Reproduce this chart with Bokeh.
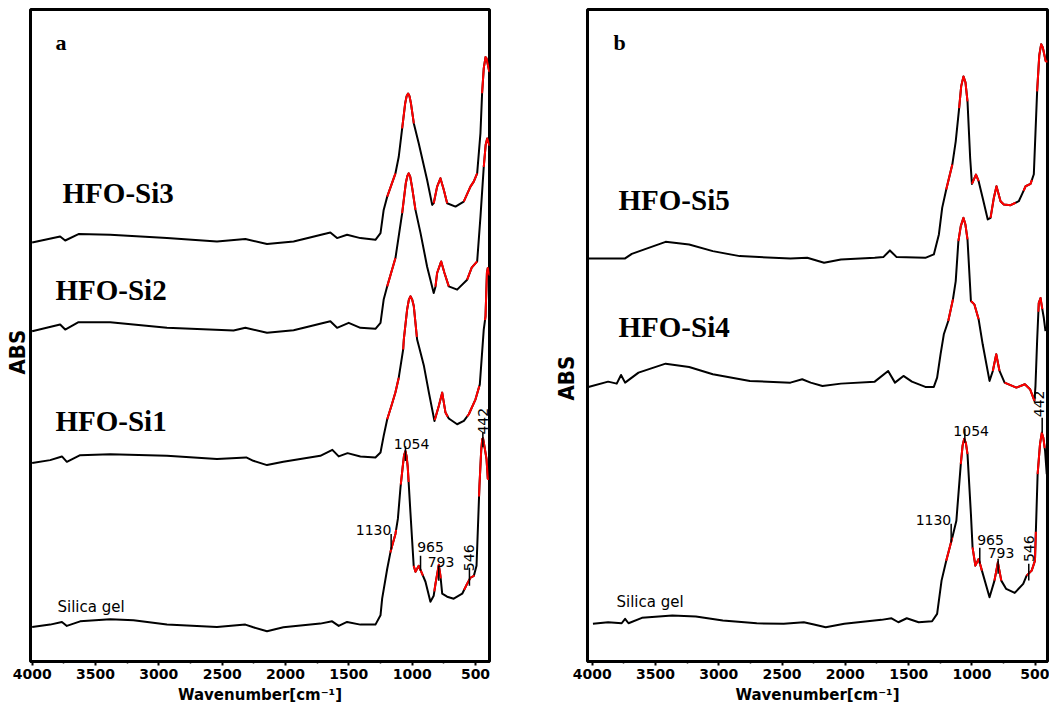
import numpy as np
from bokeh.plotting import figure
from bokeh.layouts import row
from bokeh.models import Range1d, Label, FixedTicker, Title
from bokeh.embed import file_html
from bokeh.resources import INLINE

# ---------------- Panel a data (wavenumber, absorbance a.u.) ----------------
silica_a_wn = [4000, 3858, 3765, 3726, 3621, 3384, 3200, 2936, 2541, 2317, 2254, 2146, 2017, 1725, 1632, 1580,
               1514, 1409, 1290, 1250, 1237, 1197, 1171, 1132, 1113, 1092, 1075, 1064, 1053, 1044, 1035, 1014, 988, 974, 948,
               921, 895, 856, 830, 816, 790, 777, 763, 724, 672, 605, 566, 540, 513, 492, 469, 455, 447, 441, 435, 413, 403]
silica_a_abs = [34.7, 37, 39.7, 35.7, 40.3, 42.3, 41.3, 37, 34.7, 37, 34.3, 30.3, 34.3, 38, 40.3, 35.7,
                39.7, 37, 37, 46.3, 63, 93, 110, 128, 143, 175, 195, 207, 211, 206, 195, 150, 96, 90, 96,
                88, 80, 60, 66, 78, 97, 86, 68, 65, 63, 68, 78, 84, 86, 96, 176, 212, 223, 224, 220, 203, 183]
silica_a_red = [(1172, 1127), (1090, 1028), (988, 915), (825, 775), (590, 512), (472, 395)]

si1_wn = [4000, 3858, 3765, 3726, 3621, 3384, 2936, 2541, 2310, 2254, 2146, 2017, 1725, 1630, 1580, 1510,
          1409, 1290, 1250, 1225, 1197, 1160, 1132, 1106, 1071, 1066, 1040, 1026, 1013, 1000, 987, 961, 947, 907, 868,
          824, 790, 763, 737, 711, 645, 592, 553, 500, 466, 435, 421, 410, 403, 390]
si1_abs = [199, 202, 205.7, 200.3, 207, 208, 206.3, 203, 204.7, 201.3, 197, 200.3, 206.3, 212.3, 205.7, 209,
           205.7, 204.7, 209.7, 226.3, 243, 258, 270, 284.7, 313, 323, 353, 363, 366.3, 363, 356.3, 323, 316.3, 296.3, 269.7,
           241.3, 256.3, 269.7, 249.7, 243.7, 238, 241.3, 248, 263, 278, 333, 346.3, 390, 394.7, 388]
si1_red = [(1197, 1106), (1071, 963), (822, 719), (566, 470), (425, 380)]

si2_wn = [4000, 3779, 3739, 3634, 3384, 2936, 2410, 2317, 2146, 1936, 1646, 1593, 1501, 1409, 1290, 1250,
          1225, 1197, 1132, 1079, 1050, 1038, 1027, 1015, 1000, 974, 934, 882, 830, 816, 803, 771, 745, 711, 645, 566,
          530, 487, 461, 435, 420, 408, 390]
si2_abs = [331.3, 338, 333, 340.3, 340.3, 334.7, 332, 334.7, 329.7, 332.3, 341.3, 334.7, 339.7, 334.7, 333.7, 339.7,
           363, 376.3, 404.7, 449.7, 480, 487, 489.7, 486, 475, 453, 429.7, 396, 369.7, 376, 389.7, 401.3, 389.7, 376.3, 373, 383,
           395, 401.3, 446, 496, 518, 524.7, 518]
si2_red = [(1197, 1132), (1079, 974), (816, 711), (566, 487), (435, 380)]

si3_wn = [4000, 3779, 3739, 3634, 3384, 2936, 2541, 2317, 2146, 1936, 1646, 1593, 1514, 1409, 1290, 1250,
          1225, 1197, 1132, 1106, 1079, 1055, 1044, 1032, 1021, 1010, 987, 948, 882, 842, 830, 803, 777, 750, 724, 658,
          593, 540, 514, 487, 461, 448, 435, 421, 413, 405, 392]
si3_abs = [420.3, 426.3, 422.3, 428.7, 428, 424.7, 421.3, 423.7, 418.7, 421.3, 430.3, 424.7, 428, 424.7, 423, 429.7,
           453, 466.3, 489.7, 506.3, 534.7, 560, 567, 569.7, 567, 560, 539.7, 519.7, 483, 458, 459.7, 476.3, 484.7, 473, 459.7, 456.3,
           461.3, 476.3, 481.3, 489.7, 530, 570, 595, 606.3, 605, 600, 592]
si3_red = [(1197, 1132), (1079, 987), (830, 724), (593, 487), (448, 380)]

# ---------------- Panel b data ----------------
silica_b_wn = [3994, 3874, 3767, 3740, 3713, 3607, 3367, 3181, 2968, 2700, 2487, 2328, 2248, 2155, 2008, 1715,
               1635, 1581, 1515, 1421, 1315, 1275, 1240, 1203, 1155, 1123, 1088, 1074, 1061, 1048, 1035, 1008, 995, 973,
               947, 921, 861, 822, 795, 768, 729, 662, 595, 568, 528, 502, 481, 462, 448, 436, 422, 409]
silica_b_abs = [37.7, 39.3, 38.3, 42.7, 38.3, 43.7, 46, 45, 41, 38.3, 37.7, 39.3, 37, 34.3, 37.7, 41.7,
                43.3, 39.3, 43.3, 39.3, 40.3, 47.7, 81, 101, 124.3, 141, 197.7, 216, 223, 219, 207.7, 147.7, 114.3, 96,
                102.7, 91, 64.3, 81, 99.3, 81, 72.7, 68.7, 77.7, 86, 91, 101, 187.7, 218, 229, 224, 211, 187.7]
silica_b_red = [(1203, 1155), (1088, 1035), (995, 921), (822, 768), (568, 495), (481, 425)]

si4_wn = [4030, 3874, 3806, 3772, 3740, 3634, 3420, 3234, 3047, 2754, 2434, 2341, 2274, 2181, 2035, 1768,
          1662, 1608, 1541, 1474, 1368, 1301, 1275, 1248, 1222, 1187, 1150, 1128, 1107, 1088, 1067, 1052, 1035, 1008,
          981, 947, 915, 861, 835, 808, 782, 742, 649, 582, 541, 506, 498, 485, 472, 458, 444, 432, 419]
si4_abs = [275, 280.3, 278.3, 287, 279.3, 289.3, 298.3, 295, 287.7, 281, 279.3, 282.7, 279.3, 276, 278.3, 280.3,
           291, 279.3, 286, 280.3, 275, 275, 284.3, 307.7, 327.7, 341, 362.7, 381, 421, 436, 444.3, 438, 422.7, 361,
           357.7, 342.7, 317.7, 281, 291, 307.7, 291, 279.3, 274.3, 277.7, 272.7, 261, 276, 321, 359, 364, 353, 344, 331]
si4_red = [(1187, 1150), (1107, 1035), (1008, 947), (835, 782), (742, 506), (475, 444)]

si5_wn = [4030, 3740, 3687, 3554, 3420, 3234, 3047, 2834, 2434, 2301, 2168, 2035, 1768, 1700, 1648, 1595,
          1368, 1301, 1261, 1235, 1203, 1155, 1128, 1101, 1085, 1067, 1051, 1035, 1014, 1000, 968, 947, 915, 875, 853,
          827, 806, 774, 748, 695, 630, 603, 576, 537, 511, 485, 468, 453, 440, 417]
si5_abs = [403.7, 403.7, 408.3, 414.3, 420.3, 417.7, 411, 406, 403.7, 404.3, 399.3, 402.7, 404.3, 405, 411.7, 405,
           404.3, 407.7, 427.7, 454.3, 472.7, 497.7, 521, 554.3, 576, 586, 580, 561, 504.3, 478.3, 487.7, 481, 464.3, 442.7, 444.3,
           464.3, 476, 461, 457.7, 457, 461, 468.3, 476, 478.3, 488, 571, 607, 618.3, 615, 601]
si5_red = [(1203, 1155), (1101, 1035), (1000, 947), (853, 655), (592, 526), (485, 400)]

# ---------------- Annotations ----------------
peak_labels = ["1130", "1054", "965", "793", "546", "442"]
peak_rotated = [False, False, False, False, True, True]
a_mark_wn = [1166, 1053, 934, 790, 548, 442]
a_mark_top = [128, 216, 106, 96, 94, 230]
a_mark_bot = [112, 201, 91, 81, 76, 215]
a_text_wn = [1305, 1005, 855, 772, 555, 442]
a_text_h = [132, 218, 115, 100, 104, 241]

b_mark_wn = [1164, 1056, 938, 793, 551, 445]
b_mark_top = [138, 233, 114, 103, 98, 244]
b_mark_bot = [119, 219, 98, 88, 81, 229]
b_text_wn = [1304, 1006, 853, 770, 553, 468]
b_text_h = [142, 231, 122, 109, 113, 258]

a_names = ["HFO-Si3", "HFO-Si2", "HFO-Si1", "Silica gel"]
a_name_wn = [3760, 3816, 3816, 3800]
a_name_h = [470, 373, 241, 55]
b_names = ["HFO-Si5", "HFO-Si4", "Silica gel"]
b_name_wn = [3792, 3792, 3808]
b_name_h = [462, 335, 60]

x_ticks = [500, 1000, 1500, 2000, 2500, 3000, 3500, 4000]
x_minor = [750, 1250, 1750, 2250, 2750, 3250, 3750]

SERIF = "'Liberation Serif', 'Times New Roman', serif"
SANS = "'DejaVu Sans', sans-serif"
NARROW = "'Liberation Sans Narrow', 'DejaVu Sans Condensed', 'Roboto', sans-serif"


def draw_curve(p, wn, ab, red_ranges):
    wn = np.asarray(wn, float)
    ab = np.asarray(ab, float)
    p.line(wn, ab, line_color="black", line_width=2, line_join="round")
    xs, ys = [], []
    for hi, lo in red_ranges:
        inner = wn[(wn < hi) & (wn > lo)]
        sx = np.concatenate([[hi], inner, [lo]])
        sy = np.interp(sx, wn[::-1], ab[::-1])
        xs.append(sx.tolist())
        ys.append(sy.tolist())
    p.multi_line(xs, ys, line_color="red", line_width=2, line_join="round")


def make_panel(width, xr, ytop, bl, br, bt, bb, abs_offset, abs_standoff):
    p = figure(width=width, height=711, x_range=Range1d(*xr), y_range=Range1d(0, ytop),
               output_backend="svg", toolbar_location=None, y_axis_location=None,
               min_border_left=bl, min_border_right=br, min_border_top=bt, min_border_bottom=bb)
    p.grid.visible = False
    p.outline_line_color = "black"
    p.outline_line_width = 3
    p.background_fill_color = "white"
    p.border_fill_color = "white"
    ax = p.xaxis[0]
    ax.ticker = FixedTicker(ticks=x_ticks, minor_ticks=x_minor)
    ax.axis_line_width = 3
    ax.axis_line_color = "black"
    ax.major_tick_line_color = "black"
    ax.minor_tick_line_color = "black"
    ax.major_tick_line_width = 2
    ax.major_tick_out = 4
    ax.major_tick_in = 0
    ax.minor_tick_line_width = 1.5
    ax.minor_tick_out = 2
    ax.minor_tick_in = 0
    ax.major_label_text_font = SANS
    ax.major_label_text_font_style = "bold"
    ax.major_label_text_font_size = "14px"
    ax.major_label_text_color = "black"
    ax.major_label_standoff = 3
    ax.axis_label = "Wavenumber[cm\u207b\u00b9]"
    ax.axis_label_text_font = SANS
    ax.axis_label_text_font_style = "bold"
    ax.axis_label_text_font_size = "15px"
    ax.axis_label_text_color = "black"
    ax.axis_label_standoff = 4
    p.add_layout(Title(text="ABS", align="left", offset=abs_offset, standoff=abs_standoff,
                       text_font=NARROW, text_font_size="22px", text_font_style="bold",
                       text_color="black"), "left")
    return p


def annotate(p, mark_wn, mark_top, mark_bot, text_wn, text_h):
    p.segment(x0=mark_wn, y0=mark_bot, x1=mark_wn, y1=mark_top, line_color="black", line_width=1.5)
    for lab, rot, x, y in zip(peak_labels, peak_rotated, text_wn, text_h):
        p.add_layout(Label(x=x, y=y, text=lab, text_font=SANS, text_font_size="14px", text_color="black",
                           text_align="center", text_baseline="middle" if rot else "alphabetic",
                           angle=np.pi / 2 if rot else 0))


def names(p, labels, xs, ys):
    for lab, x, y in zip(labels, xs, ys):
        if lab == "Silica gel":
            p.add_layout(Label(x=x, y=y, text=lab, text_font=SANS, text_font_size="15px", text_color="black",
                               text_align="left", text_baseline="alphabetic"))
        else:
            p.add_layout(Label(x=x, y=y, text=lab, text_font=SERIF, text_font_size="29px", text_color="black",
                               text_font_style="bold", text_align="left", text_baseline="alphabetic"))


# ---------------- Panel a ----------------
pa = make_panel(520, (4013, 389.6), 654, 30, 31, 9, 48, 287, 2)
draw_curve(pa, silica_a_wn, silica_a_abs, silica_a_red)
draw_curve(pa, si1_wn, si1_abs, si1_red)
draw_curve(pa, si2_wn, si2_abs, si2_red)
draw_curve(pa, si3_wn, si3_abs, si3_red)
annotate(pa, a_mark_wn, a_mark_top, a_mark_bot, a_text_wn, a_text_h)
names(pa, a_names, a_name_wn, a_name_h)
pa.add_layout(Label(x=3816, y=621, text="a", text_font=SERIF, text_font_size="22px", text_color="black",
                    text_font_style="bold", text_align="left", text_baseline="alphabetic"))

# ---------------- Panel b ----------------
pb = make_panel(529, (4037, 403), 653, 67, 2, 8, 50, 261, 17)
draw_curve(pb, silica_b_wn, silica_b_abs, silica_b_red)
draw_curve(pb, si4_wn, si4_abs, si4_red)
draw_curve(pb, si5_wn, si5_abs, si5_red)
annotate(pb, b_mark_wn, b_mark_top, b_mark_bot, b_text_wn, b_text_h)
names(pb, b_names, b_name_wn, b_name_h)
pb.add_layout(Label(x=3832, y=620, text="b", text_font=SERIF, text_font_size="22px", text_color="black",
                    text_font_style="bold", text_align="left", text_baseline="alphabetic"))

layout = row(pa, pb)
open("out.html", "w").write(file_html(layout, INLINE))
